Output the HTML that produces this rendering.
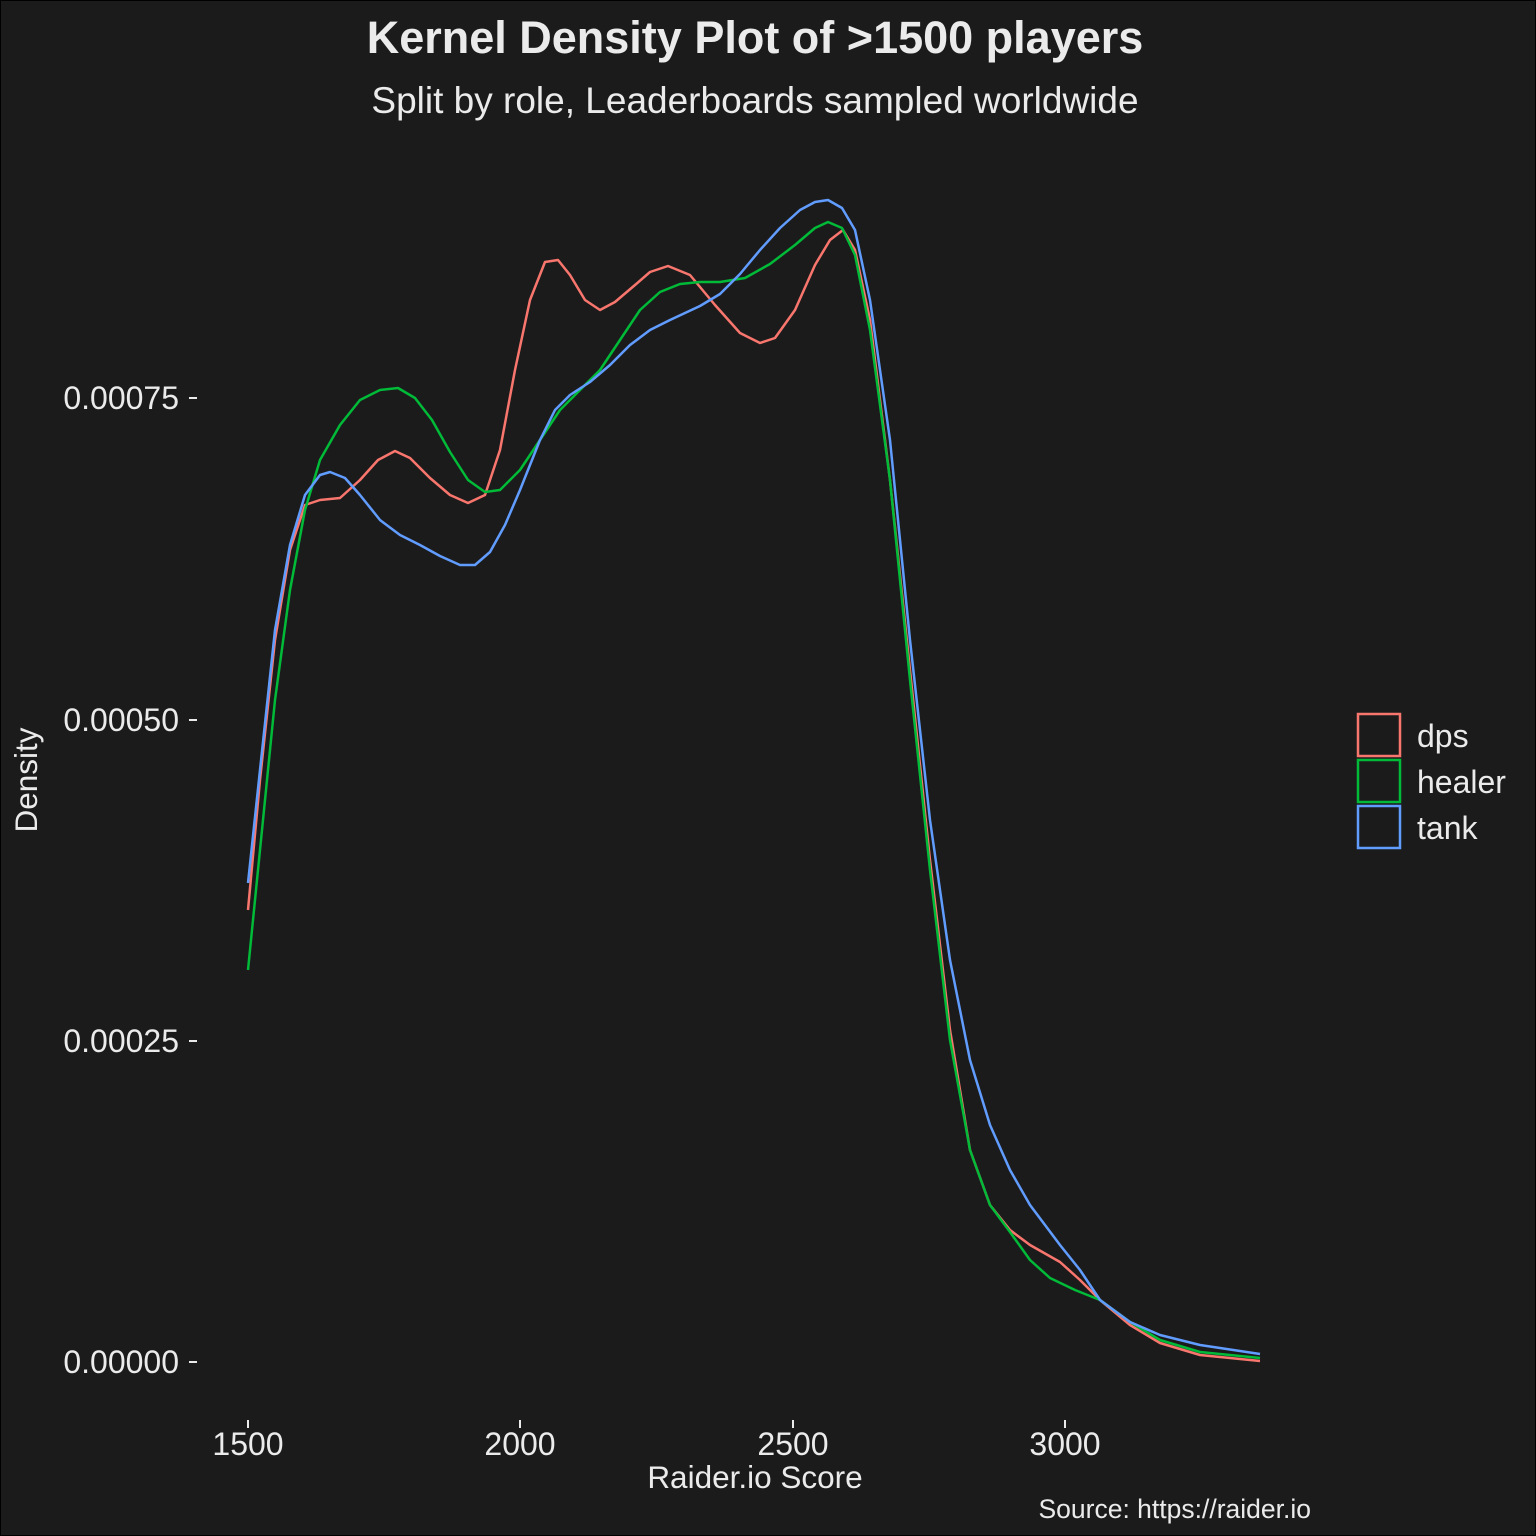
<!DOCTYPE html>
<html><head><meta charset="utf-8"><style>
html,body{margin:0;padding:0;background:#1b1b1b;}
svg{display:block;}
text{font-family:"Liberation Sans",sans-serif;fill:#ebebeb;}
</style></head><body>
<svg width="1536" height="1536" viewBox="0 0 1536 1536">
<rect x="0.5" y="0.5" width="1535" height="1535" fill="#1b1b1b" stroke="#000" stroke-width="1"/>
<text x="755" y="53" font-size="45" font-weight="bold" text-anchor="middle">Kernel Density Plot of &gt;1500 players</text>
<text x="755" y="113" font-size="37" text-anchor="middle">Split by role, Leaderboards sampled worldwide</text>
<g font-size="32" text-anchor="end">
<text x="179" y="409">0.00075</text>
<text x="179" y="731">0.00050</text>
<text x="179" y="1052">0.00025</text>
<text x="179" y="1373">0.00000</text>
</g>
<g stroke="#ebebeb" stroke-width="2">
<line x1="189" y1="398" x2="197" y2="398"/><line x1="189" y1="720" x2="197" y2="720"/>
<line x1="189" y1="1041" x2="197" y2="1041"/><line x1="189" y1="1362" x2="197" y2="1362"/>
<line x1="248" y1="1420" x2="248" y2="1428"/><line x1="520" y1="1420" x2="520" y2="1428"/>
<line x1="793" y1="1420" x2="793" y2="1428"/><line x1="1065" y1="1420" x2="1065" y2="1428"/>
</g>
<g font-size="32" text-anchor="middle">
<text x="248" y="1455">1500</text><text x="520" y="1455">2000</text>
<text x="793" y="1455">2500</text><text x="1065" y="1455">3000</text>
</g>
<text x="755" y="1488" font-size="31.5" text-anchor="middle">Raider.io Score</text>
<text transform="translate(37,780) rotate(-90)" font-size="31.5" text-anchor="middle">Density</text>
<text x="1311" y="1518" font-size="26.5" text-anchor="end">Source: https://raider.io</text>
<g fill="none" stroke-width="2.5" stroke-linejoin="round">
<polyline stroke="#F8766D" points="248,910 260,780 275,640 290,550 305,505 320,500 340,498 360,480 378,460 395,451 410,458 430,478 450,495 468,503 485,495 500,450 515,370 530,300 545,262 558,260 570,275 585,300 600,310 615,302 635,285 650,272 668,266 690,275 715,305 740,333 760,343 775,338 795,310 815,265 830,240 843,230 855,250 870,320 890,480 910,670 930,860 950,1030 970,1150 990,1205 1010,1230 1030,1245 1060,1262 1080,1280 1100,1300 1130,1325 1160,1343 1200,1355 1260,1361"/>
<polyline stroke="#00BA38" points="248,970 260,850 275,700 290,590 305,510 320,460 340,425 360,400 380,390 398,388 415,398 432,420 450,452 468,480 485,492 500,490 520,470 540,440 560,410 580,390 600,370 620,340 640,310 660,292 680,284 700,282 720,282 745,278 770,264 795,245 815,228 828,222 842,228 855,255 870,330 890,480 910,680 930,870 950,1040 970,1150 990,1205 1010,1232 1030,1260 1050,1278 1075,1290 1100,1300 1130,1322 1160,1340 1200,1352 1260,1358"/>
<polyline stroke="#619CFF" points="248,883 260,770 275,630 290,545 305,495 320,475 330,472 345,478 360,495 380,520 400,535 420,545 440,556 460,565 475,565 490,552 505,525 520,490 540,440 555,410 570,395 590,382 610,365 630,345 650,330 670,320 700,306 720,294 740,274 760,250 780,228 800,210 815,202 828,200 842,208 855,230 870,300 890,440 910,640 930,820 950,960 970,1060 990,1125 1010,1170 1030,1205 1060,1245 1080,1270 1100,1300 1130,1322 1160,1335 1200,1345 1260,1354"/>
</g>
<g fill="none" stroke-width="2.5">
<rect x="1358" y="714" width="42" height="42" stroke="#F8766D"/>
<rect x="1358" y="760" width="42" height="42" stroke="#00BA38"/>
<rect x="1358" y="806" width="42" height="42" stroke="#619CFF"/>
</g>
<g font-size="32">
<text x="1417" y="747">dps</text><text x="1417" y="793">healer</text><text x="1417" y="839">tank</text>
</g>
</svg>
</body></html>
